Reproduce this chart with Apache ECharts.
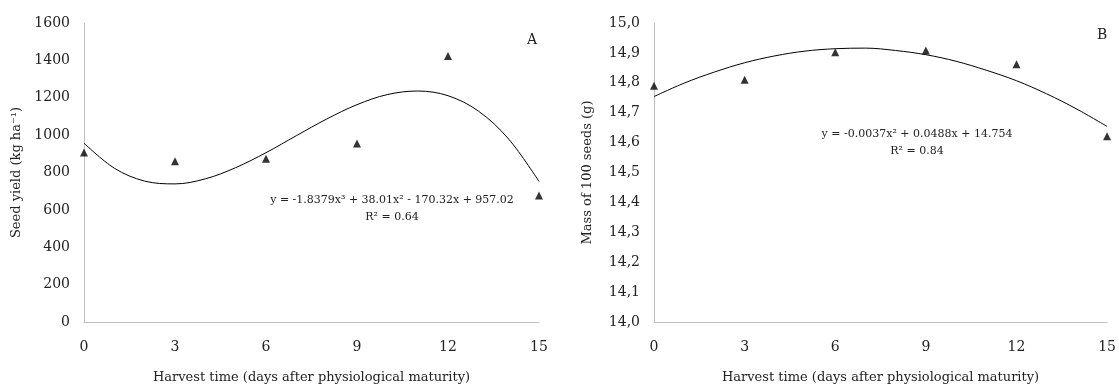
<!DOCTYPE html>
<html><head><meta charset="utf-8">
<script src="https://cdn.jsdelivr.net/npm/echarts@6/dist/echarts.min.js"></script>
<style>html,body{margin:0;padding:0;background:#fff}#c{width:1119px;height:389px}</style>
</head><body><div id="c"></div>
<script>
// Harvest time (days after physiological maturity)
const days = [0, 3, 6, 9, 12, 15];
const xTicks = [0, 3, 6, 9, 12, 15];
// Panel A: seed yield (kg ha-1) observed
const yieldObs = [907, 860, 873, 955, 1424, 677];
// Panel A: fitted cubic trend (day, value)
const trendDaysA = [0,1,2,3,4,5,6,7,8,9,10,11,12,13,14,15];
const yieldTrend = [957, 823, 754, 739, 766, 826, 906, 997, 1086, 1163, 1217, 1236, 1211, 1129, 979, 752];
// Panel B: mass of 100 seeds (g) observed
const massObs = [14.79, 14.81, 14.902, 14.908, 14.862, 14.621];
// Panel B: fitted quadratic trend
const trendDaysB = [0,1,2,3,4,5,6,7,8,9,10,11,12,13,14,15];
const massTrend = [14.754, 14.799, 14.836, 14.867, 14.890, 14.906, 14.914, 14.916, 14.908, 14.894, 14.872, 14.842, 14.807, 14.763, 14.712, 14.654];
const yTicksA = [0, 200, 400, 600, 800, 1000, 1200, 1400, 1600];
const yTicksB = [14.0, 14.1, 14.2, 14.3, 14.4, 14.5, 14.6, 14.7, 14.8, 14.9, 15.0];

const FONT = 'DejaVu Serif';
const chart = echarts.init(document.getElementById('c'), null, {renderer: 'canvas'});
function xAxis(gi){
  return {type:'value', gridIndex:gi, min:0, max:15, interval:3,
    axisLine:{lineStyle:{color:'#bfbfbf', width:1}}, axisTick:{show:false}, splitLine:{show:false},
    axisLabel:{color:'#222', fontFamily:FONT, fontSize:14, margin:18},
    name:'Harvest time (days after physiological maturity)', nameLocation:'middle', nameGap:49,
    nameTextStyle:{color:'#222', fontFamily:FONT, fontSize:13}};
}
const option = {
  animation:false,
  grid:[{left:84, right:580, top:23, bottom:66},{left:654, right:11, top:23, bottom:66}],
  xAxis:[xAxis(0), xAxis(1)],
  yAxis:[
    {type:'value', gridIndex:0, min:yTicksA[0], max:yTicksA[yTicksA.length-1], interval:200,
     axisLine:{show:true, lineStyle:{color:'#bfbfbf'}}, axisTick:{show:false}, splitLine:{show:false},
     axisLabel:{color:'#222', fontFamily:FONT, fontSize:14, margin:14, formatter:v=>String(v)},
     name:'Seed yield (kg ha⁻¹)', nameLocation:'middle', nameGap:61, nameRotate:90,
     nameTextStyle:{color:'#222', fontFamily:FONT, fontSize:13}},
    {type:'value', gridIndex:1, min:14, max:15, interval:0.1,
     axisLine:{show:true, lineStyle:{color:'#bfbfbf'}}, axisTick:{show:false}, splitLine:{show:false},
     axisLabel:{color:'#222', fontFamily:FONT, fontSize:14, margin:14, formatter:v=>v.toFixed(1).replace('.',',')},
     name:'Mass of 100 seeds (g)', nameLocation:'middle', nameGap:60, nameRotate:90,
     nameTextStyle:{color:'#222', fontFamily:FONT, fontSize:13}}
  ],
  series:[
    {type:'line', xAxisIndex:0, yAxisIndex:0, data:trendDaysA.map((d,i)=>[d,yieldTrend[i]]), smooth:0.35, showSymbol:false,
     lineStyle:{color:'#000', width:1}},
    {type:'scatter', xAxisIndex:0, yAxisIndex:0, data:days.map((d,i)=>[d,yieldObs[i]]), symbol:'triangle', symbolSize:8,
     itemStyle:{color:'#000'}},
    {type:'line', xAxisIndex:1, yAxisIndex:1, data:trendDaysB.map((d,i)=>[d,massTrend[i]]), smooth:0.35, showSymbol:false,
     lineStyle:{color:'#000', width:1}},
    {type:'scatter', xAxisIndex:1, yAxisIndex:1, data:days.map((d,i)=>[d,massObs[i]]), symbol:'triangle', symbolSize:8,
     itemStyle:{color:'#000'}}
  ],
  graphic:[
    {type:'text', left:527, top:33, style:{text:'A', font:'14px '+FONT, fill:'#222'}},
    {type:'text', left:1097, top:28, style:{text:'B', font:'14px '+FONT, fill:'#222'}},
    {type:'text', x:392, y:209, style:{text:'y = -1.8379x³ + 38.01x² - 170.32x + 957.02\nR² = 0.64', font:'11px '+FONT, fill:'#222', align:'center', verticalAlign:'middle', lineHeight:17}},
    {type:'text', x:917, y:143, style:{text:'y = -0.0037x² + 0.0488x + 14.754\nR² = 0.84', font:'11px '+FONT, fill:'#222', align:'center', verticalAlign:'middle', lineHeight:17}}
  ]
};
chart.setOption(option);
</script></body></html>
